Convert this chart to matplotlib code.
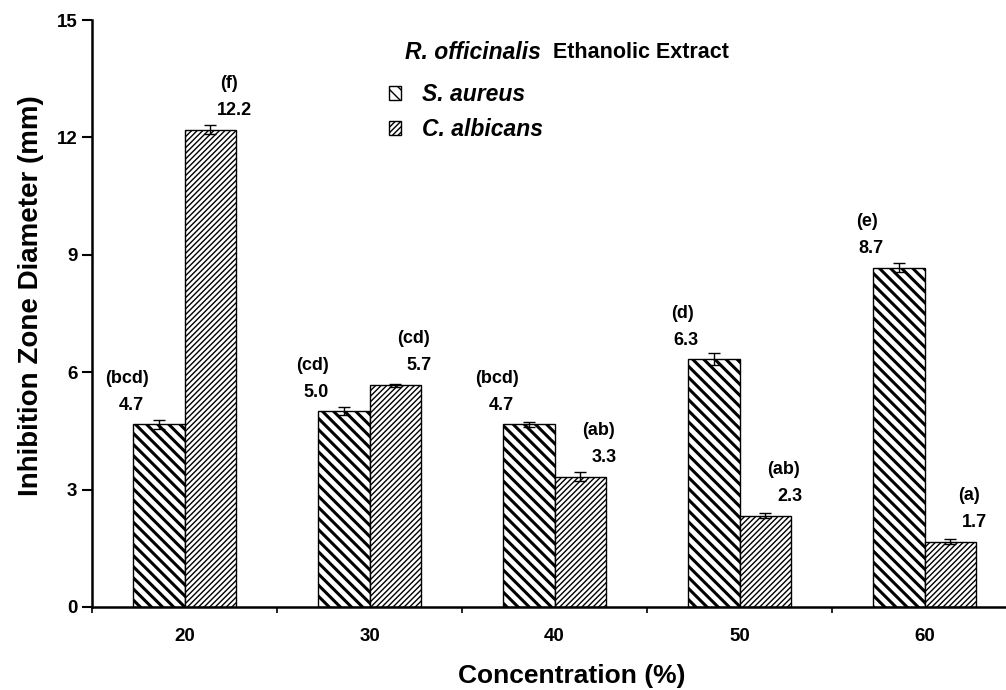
import matplotlib
matplotlib.use("Agg")
import matplotlib.pyplot as plt
import numpy as np

plt.rcParams['font.family'] = ['Liberation Sans', 'DejaVu Sans']

concentrations = ["20", "30", "40", "50", "60"]
s_aureus = [4.67, 5.0, 4.67, 6.33, 8.67]
s_aureus_err = [0.12, 0.10, 0.06, 0.15, 0.12]
c_albicans = [12.2, 5.67, 3.33, 2.33, 1.67]
c_albicans_err = [0.12, 0.04, 0.12, 0.06, 0.06]
s_letters = ["(bcd)", "(cd)", "(bcd)", "(d)", "(e)"]
c_letters = ["(f)", "(cd)", "(ab)", "(ab)", "(a)"]

fig = plt.figure(figsize=(10.06, 6.9), dpi=100)
ax = fig.add_axes([0.0915, 0.1203, 0.9075, 0.8507])

x = np.arange(len(concentrations))
w = 0.28

with plt.rc_context({'hatch.linewidth': 2.2}):
    b1 = ax.bar(x - w/2, s_aureus, w, color='white', edgecolor='black',
                hatch='\\\\\\', linewidth=1.0, label='S. aureus')
with plt.rc_context({'hatch.linewidth': 1.0}):
    b2 = ax.bar(x + w/2, c_albicans, w, color='white', edgecolor='black',
                hatch='//////', linewidth=1.0, label='C. albicans')

ax.errorbar(x - w/2, s_aureus, yerr=s_aureus_err, fmt='none', ecolor='black',
            elinewidth=1.0, capsize=4, capthick=1.0)
ax.errorbar(x + w/2, c_albicans, yerr=c_albicans_err, fmt='none', ecolor='black',
            elinewidth=1.0, capsize=4, capthick=1.0)

fs_ann = 13
for i in range(len(x)):
    xs = x[i] - w/2 - 0.15
    ax.text(xs, s_aureus[i] + 0.49, f"{s_aureus[i]:.1f}", ha='center', va='center',
            fontsize=fs_ann, fontweight='bold')
    ax.text(xs - 0.02, s_aureus[i] + 1.18, s_letters[i], ha='center', va='center',
            fontsize=fs_ann, fontweight='bold')
    xc = x[i] + w/2 + 0.13
    ax.text(xc, c_albicans[i] + 0.49, f"{c_albicans[i]:.1f}", ha='center', va='center',
            fontsize=fs_ann, fontweight='bold')
    ax.text(xc - 0.03, c_albicans[i] + 1.18, c_letters[i], ha='center', va='center',
            fontsize=fs_ann, fontweight='bold')

ax.set_xlim(-0.5, 4.435)
ax.set_ylim(0, 15)
ax.set_yticks([0, 3, 6, 9, 12, 15])
ax.set_yticklabels(["0", "3", "6", "9", "12", "15"], fontsize=13.5, fontweight='bold')
ax.set_xticks(np.arange(-0.5, 4.5, 1.0))
ax.set_xticklabels([])
ax.set_xticks(x, minor=True)
ax.set_xticklabels(concentrations, minor=True, fontsize=13.5, fontweight='bold')
ax.tick_params(axis='x', which='minor', length=0, pad=15)
ax.tick_params(axis='x', which='major', length=4.5, width=1.2, direction='out')
ax.tick_params(axis='y', length=7, width=1.5, direction='out', pad=3.5)

for s in ['top', 'right']:
    ax.spines[s].set_visible(False)
ax.spines['left'].set_linewidth(1.8)
ax.spines['bottom'].set_linewidth(1.8)

ax.set_xlabel("Concentration (%)", fontsize=19, fontweight='bold')
ax.xaxis.set_label_coords(0.525, -0.097)
ax.set_ylabel("Inhibition Zone Diameter (mm)", fontsize=20, fontweight='bold')
ax.yaxis.set_label_coords(-0.053, 0.53)

t1 = ax.text(0.343, 0.945, "R. officinalis", transform=ax.transAxes, fontsize=16.5,
             fontweight='bold', fontstyle='italic', ha='left', va='center')
ax.annotate("  Ethanolic Extract", xy=(1, 0.5), xycoords=t1, fontsize=15.5,
            fontweight='bold', ha='left', va='center')

leg = ax.legend(handles=[b1, b2], loc='upper left', bbox_to_anchor=(0.325, 0.892),
                frameon=False, borderpad=0, borderaxespad=0,
                handlelength=0.55, handleheight=0.55, handletextpad=0.9,
                labelspacing=0.5, prop={'size': 16.5, 'weight': 'bold', 'style': 'italic'})

fig.savefig("out.png", dpi=100)
